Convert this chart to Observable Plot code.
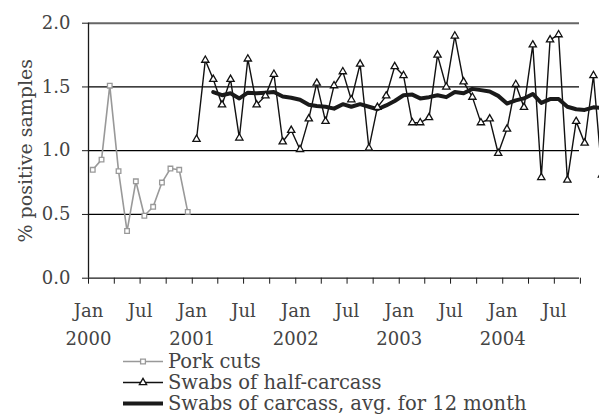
<!DOCTYPE html>
<html>
<head>
<meta charset="utf-8">
<script src="https://cdn.jsdelivr.net/npm/d3@7"></script>
<script src="https://cdn.jsdelivr.net/npm/@observablehq/plot@0.6"></script>
<style>
  html, body { margin: 0; padding: 0; background: #fff; }
  body { width: 599px; height: 417px; overflow: hidden; font-family: "DejaVu Serif", serif; color: #444; }
  #legend { padding-left: 123px; font-size: 19.5px; line-height: 21px; }
  .row { display: flex; align-items: center; height: 21px; white-space: nowrap; }
  .row svg { margin-right: 5px; flex: none; }
</style>
</head>
<body>
<div id="chart"></div>
<div id="legend"></div>
<script>
// Pork cuts, Jan–Dec 2000
const porkCuts = [0.85, 0.93, 1.51, 0.84, 0.37, 0.76, 0.49, 0.56, 0.75, 0.86, 0.85, 0.52];
// Swabs of half-carcass, Jan 2001 – Dec 2004
const halfCarcass = [
  1.09, 1.71, 1.56, 1.36, 1.56, 1.10, 1.72, 1.36, 1.43, 1.60, 1.07, 1.16,
  1.01, 1.25, 1.53, 1.23, 1.51, 1.62, 1.40, 1.68, 1.02, 1.34, 1.43, 1.66,
  1.59, 1.22, 1.22, 1.26, 1.75, 1.50, 1.90, 1.54, 1.42, 1.22, 1.25, 0.98,
  1.17, 1.52, 1.34, 1.83, 0.79, 1.87, 1.91, 0.77, 1.23, 1.06, 1.59, 0.81
];
// Swabs of carcass, 12-month average, Mar 2001 – Dec 2004
const carcassAvg = [
  1.46, 1.435, 1.45, 1.41, 1.455, 1.45, 1.455, 1.46, 1.425, 1.415,
  1.40, 1.36, 1.35, 1.345, 1.33, 1.365, 1.345, 1.365, 1.345, 1.325, 1.355, 1.39,
  1.435, 1.44, 1.41, 1.42, 1.435, 1.42, 1.46, 1.45, 1.485, 1.475, 1.465, 1.43,
  1.37, 1.395, 1.41, 1.445, 1.375, 1.405, 1.405, 1.345, 1.325, 1.32, 1.34, 1.335
];
const yTicks = [0, 0.5, 1.0, 1.5, 2.0];
const xTickLabels = ["Jan\n2000", "Jul", "Jan\n2001", "Jul", "Jan\n2002", "Jul", "Jan\n2003", "Jul", "Jan\n2004", "Jul"];
const seriesNames = ["Pork cuts", "Swabs of half-carcass", "Swabs of carcass, avg. for 12 month"];
const yTitle = "% positive samples";

const mid = (y, m) => new Date(Date.UTC(y, m, 16));
const porkRows = porkCuts.map((v, i) => ({date: mid(2000, i), v}));
const halfRows = halfCarcass.map((v, i) => ({date: mid(2001, i), v}));
const avgRows = carcassAvg.map((v, i) => ({date: mid(2001, i + 2), v}));
const xStart = new Date(Date.UTC(2000, 0, 1));
const xEnd = new Date(Date.UTC(2005, 0, 1));
const quarterTicks = d3.utcMonth.every(3).range(xStart, new Date(Date.UTC(2004, 11, 1)));
const labelTicks = xTickLabels.map((t, i) => new Date(Date.UTC(2000, i * 6, 1)));
const labelOf = new Map(labelTicks.map((d, i) => [+d, xTickLabels[i]]));

const chart = Plot.plot({
  width: 599,
  height: 351,
  marginLeft: 88,
  marginTop: 22.7,
  marginBottom: 73.3,
  style: {fontFamily: "DejaVu Serif", fontSize: "18px", color: "#444", background: "#fff"},
  x: {type: "utc", domain: [xStart, xEnd], range: [88, 606]},
  y: {domain: [0, 2]},
  marks: [
    Plot.gridY([0.5, 1.0, 1.5], {stroke: "#000", strokeOpacity: 1, strokeWidth: 1.2}),
    Plot.ruleY([2], {stroke: "#666", strokeWidth: 2}),
    Plot.axisY({ticks: yTicks, tickFormat: d3.format(".1f"), tickSize: 6, tickPadding: 12, label: null, stroke: "#1a1a1a", fill: "#444"}),
    Plot.axisX({ticks: quarterTicks, tickSize: 6, tickFormat: () => "", label: null, stroke: "#1a1a1a"}),
    Plot.axisX({ticks: labelTicks, tickSize: 0, tickPadding: 19, tickFormat: d => labelOf.get(+d), label: null, lineHeight: 1.54, fill: "#444"}),
    Plot.text([yTitle], {frameAnchor: "left", rotate: -90, textAnchor: "middle", dx: -63, fill: "#444", fontSize: 19}),
    Plot.ruleY([0], {stroke: "#1a1a1a", strokeWidth: 1.3}),
    Plot.ruleX([xStart], {y1: 0, y2: 2, stroke: "#1a1a1a", strokeWidth: 1.3}),
    Plot.line(porkRows, {x: "date", y: "v", stroke: "#999", strokeWidth: 1.6}),
    Plot.dot(porkRows, {x: "date", y: "v", symbol: "square", r: 2.6, stroke: "#999", fill: "white", strokeWidth: 1.3}),
    Plot.line(halfRows, {x: "date", y: "v", stroke: "#111", strokeWidth: 1.4}),
    Plot.line(avgRows, {x: "date", y: "v", stroke: "#1a1a1a", strokeWidth: 4}),
    Plot.dot(halfRows, {x: "date", y: "v", symbol: "triangle", r: 2.7, stroke: "#111", fill: "white", strokeWidth: 1.3})
  ]
});
document.getElementById("chart").appendChild(chart);

// Legend
const legend = d3.select("#legend");
const styles = [
  {stroke: "#999", width: 1.6, marker: "square", mstroke: "#999"},
  {stroke: "#111", width: 1.4, marker: "triangle", mstroke: "#111"},
  {stroke: "#1a1a1a", width: 4, marker: null}
];
seriesNames.forEach((name, i) => {
  const s = styles[i];
  const row = legend.append("div").attr("class", "row");
  const svg = row.append("svg").attr("width", 40).attr("height", 21);
  svg.append("line").attr("x1", 0).attr("x2", 40).attr("y1", 10.5).attr("y2", 10.5)
    .attr("stroke", s.stroke).attr("stroke-width", s.width);
  if (s.marker) {
    const sym = s.marker === "square" ? d3.symbolSquare : d3.symbolTriangle;
    svg.append("path").attr("d", d3.symbol(sym, Math.PI * 2.7 * 2.7)())
      .attr("transform", "translate(20,10.5)")
      .attr("fill", "white").attr("stroke", s.mstroke).attr("stroke-width", 1.3);
  }
  row.append("span").text(name);
});
</script>
</body>
</html>
